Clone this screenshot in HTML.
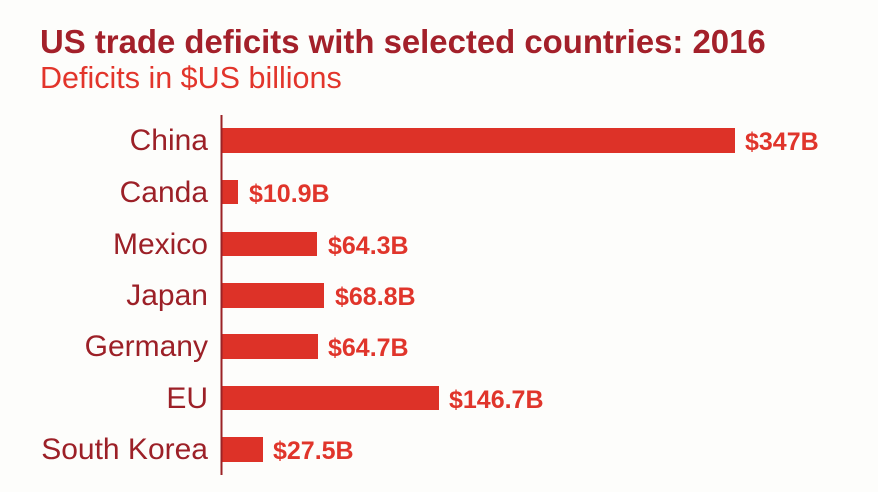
<!DOCTYPE html>
<html>
<head>
<meta charset="utf-8">
<style>
  html,body{margin:0;padding:0;background:#fdfdfb;}
  svg{display:block;}
  text{font-family:"Liberation Sans",Arial,sans-serif;}
</style>
</head>
<body>
<svg width="878" height="492" viewBox="0 0 878 492" xmlns="http://www.w3.org/2000/svg">
  <rect width="878" height="492" fill="#fdfdfb"/>
  <text x="40" y="53" font-size="32.9" font-weight="bold" fill="#a3202a">US trade deficits with selected countries: 2016</text>
  <text x="40" y="88" font-size="30.5" fill="#e2352b">Deficits in $US billions</text>

  <!-- bars -->
  <g fill="#dd3228">
    <rect x="222" y="128" width="513" height="25"/>
    <rect x="222" y="180" width="16" height="24"/>
    <rect x="222" y="232" width="95" height="24"/>
    <rect x="222" y="283" width="102" height="25"/>
    <rect x="222" y="334" width="96" height="25"/>
    <rect x="222" y="386" width="217" height="24"/>
    <rect x="222" y="437" width="41" height="25"/>
  </g>
  <rect x="220.5" y="115" width="2" height="360" fill="#9b2226"/>

  <!-- category labels -->
  <g font-size="30" fill="#9c2027" text-anchor="end">
    <text x="208" y="150">China</text>
    <text x="208" y="202">Canda</text>
    <text x="208" y="254">Mexico</text>
    <text x="208" y="305">Japan</text>
    <text x="208" y="356">Germany</text>
    <text x="208" y="408">EU</text>
    <text x="208" y="459">South Korea</text>
  </g>

  <!-- value labels -->
  <g font-size="25" font-weight="bold" fill="#e0352b">
    <text x="745" y="150">$347B</text>
    <text x="249" y="202">$10.9B</text>
    <text x="328" y="254">$64.3B</text>
    <text x="335" y="305">$68.8B</text>
    <text x="328" y="356">$64.7B</text>
    <text x="449" y="408">$146.7B</text>
    <text x="273" y="459">$27.5B</text>
  </g>
</svg>
</body>
</html>
